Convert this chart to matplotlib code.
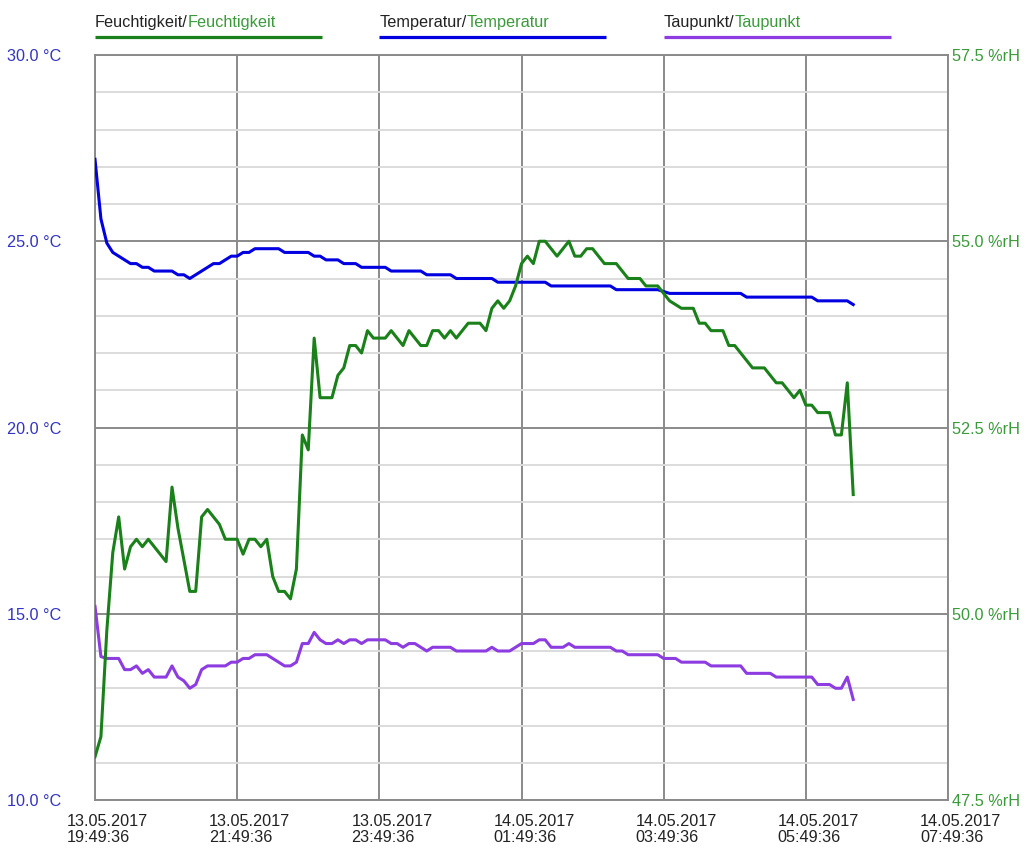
import matplotlib
matplotlib.use("Agg")
import matplotlib.pyplot as plt
import matplotlib.transforms as mtransforms
import numpy as np
import pandas as pd

plt.rcParams["font.family"] = ["Liberation Sans", "DejaVu Sans"]

t0 = np.datetime64("2017-05-13T19:49:36")

# Feuchtigkeit (%rH) - minutes after start / value
hum_min = [0, 5, 10, 15, 20, 25, 30, 35, 40, 45, 60, 65, 70, 80, 85, 90, 95, 105, 110,
           120, 125, 130, 135, 140, 145, 150, 155, 160, 165, 170, 175, 180, 185, 190,
           200, 205, 210, 215, 220, 225, 230, 235, 245, 250, 260, 265, 275, 280, 285,
           290, 295, 300, 305, 315, 325, 330, 335, 340, 345, 350, 355, 360, 365, 370,
           375, 380, 390, 400, 405, 410, 415, 420, 430, 440, 450, 460, 465, 475, 485,
           495, 505, 510, 515, 520, 530, 535, 540, 555, 565, 575, 580, 590, 595, 600,
           605, 610, 620, 625, 630, 635, 640]
hum_val = [48.08, 48.35, 49.78, 50.82, 51.3, 50.6, 50.9, 51.0, 50.9, 51.0, 50.7, 51.7,
           51.15, 50.3, 50.3, 51.3, 51.4, 51.2, 51.0, 51.0, 50.8, 51.0, 51.0, 50.9, 51.0,
           50.5, 50.3, 50.3, 50.2, 50.6, 52.4, 52.2, 53.7, 52.9, 52.9, 53.2, 53.3, 53.6,
           53.6, 53.5, 53.8, 53.7, 53.7, 53.8, 53.6, 53.8, 53.6, 53.6, 53.8, 53.8, 53.7,
           53.8, 53.7, 53.9, 53.9, 53.8, 54.1, 54.2, 54.1, 54.2, 54.4, 54.7, 54.8, 54.7,
           55.0, 55.0, 54.8, 55.0, 54.8, 54.8, 54.9, 54.9, 54.7, 54.7, 54.5, 54.5, 54.4,
           54.4, 54.2, 54.1, 54.1, 53.9, 53.9, 53.8, 53.8, 53.6, 53.6, 53.3, 53.3, 53.1,
           53.1, 52.9, 53.0, 52.8, 52.8, 52.7, 52.7, 52.4, 52.4, 53.1, 51.6]

# Temperatur (°C)
temp_min = [0, 5, 10, 15, 20, 30, 35, 40, 45, 50, 65, 70, 75, 80, 100, 105, 115, 120,
            125, 130, 135, 155, 160, 180, 185, 190, 195, 205, 210, 220, 225, 245, 250,
            275, 280, 300, 305, 335, 340, 380, 385, 435, 440, 475, 485, 545, 550, 605,
            610, 635, 640]
temp_val = [27.2, 25.6, 24.95, 24.7, 24.6, 24.4, 24.4, 24.3, 24.3, 24.2, 24.2, 24.1,
            24.1, 24.0, 24.4, 24.4, 24.6, 24.6, 24.7, 24.7, 24.8, 24.8, 24.7, 24.7, 24.6,
            24.6, 24.5, 24.5, 24.4, 24.4, 24.3, 24.3, 24.2, 24.2, 24.1, 24.1, 24.0, 24.0,
            23.9, 23.9, 23.8, 23.8, 23.7, 23.7, 23.6, 23.6, 23.5, 23.5, 23.4, 23.4, 23.3]

# Taupunkt (°C)
dew_min = [0, 5, 10, 20, 25, 30, 35, 40, 45, 50, 60, 65, 70, 75, 80, 85, 90, 95, 110,
           115, 120, 125, 130, 135, 145, 160, 165, 170, 175, 180, 185, 190, 195, 200, 205,
           210, 215, 220, 225, 230, 245, 250, 255, 260, 265, 270, 280, 285, 300, 305, 330,
           335, 340, 350, 360, 370, 375, 380, 385, 395, 400, 405, 435, 440, 445, 450, 475,
           480, 490, 495, 515, 520, 545, 550, 570, 575, 605, 610, 620, 625, 630, 635, 640]
dew_val = [15.2, 13.85, 13.8, 13.8, 13.5, 13.5, 13.6, 13.4, 13.5, 13.3, 13.3, 13.6, 13.3,
           13.2, 13.0, 13.1, 13.5, 13.6, 13.6, 13.7, 13.7, 13.8, 13.8, 13.9, 13.9, 13.6,
           13.6, 13.7, 14.2, 14.2, 14.5, 14.3, 14.2, 14.2, 14.3, 14.2, 14.3, 14.3, 14.2,
           14.3, 14.3, 14.2, 14.2, 14.1, 14.2, 14.2, 14.0, 14.1, 14.1, 14.0, 14.0, 14.1,
           14.0, 14.0, 14.2, 14.2, 14.3, 14.3, 14.1, 14.1, 14.2, 14.1, 14.1, 14.0, 14.0,
           13.9, 13.9, 13.8, 13.8, 13.7, 13.7, 13.6, 13.6, 13.4, 13.4, 13.3, 13.3, 13.1,
           13.1, 13.0, 13.0, 13.3, 12.7]

c_hum = "#1a801a"
c_temp = "#0000e0"
c_dew = "#8c3ce0"
c_txt_left = "#3333c4"
c_txt_right = "#3a9a3a"
c_major = "#8a8a8a"
c_minor = "#dcdcdc"
fs = 11.7


def to_time(mins):
    return t0 + np.array(mins) * np.timedelta64(60, "s")


fig = plt.figure(figsize=(10.3, 8.48), dpi=100)
ax = fig.add_axes([95 / 1030, 1 - 800 / 848, 853 / 1030, 745 / 848])
ax2 = ax.twinx()

ax.plot(to_time(dew_min), dew_val, color=c_dew, lw=2.2, zorder=3)
ax.plot(to_time(temp_min), temp_val, color=c_temp, lw=2.2, zorder=3)
ax2.plot(to_time(hum_min), hum_val, color=c_hum, lw=2.2, zorder=3)

xticks = t0 + np.arange(0, 13, 2) * np.timedelta64(1, "h")
xlabels = pd.to_datetime(xticks).strftime("%d.%m.%Y\n%H:%M:%S")
ax.set_xlim(xticks[0], xticks[-1])
ax.set_xticks(xticks, list(xlabels))
ax.set_ylim(10, 30)
ax.set_yticks([10, 15, 20, 25, 30], [f"{v:.1f} °C" for v in [10, 15, 20, 25, 30]])
ax.set_yticks(np.arange(10, 31, 1), minor=True)
ax2.set_ylim(47.5, 57.5)
ax2.set_yticks([47.5, 50, 52.5, 55, 57.5], [f"{v:.1f} %rH" for v in [47.5, 50, 52.5, 55, 57.5]])

ax.grid(True, which="minor", axis="y", color=c_minor, lw=1.4)
ax.grid(True, which="major", color=c_major, lw=1.4)
ax.set_axisbelow(True)
ax.tick_params(axis="both", which="both", length=0)
ax.tick_params(axis="y", labelsize=fs, labelcolor=c_txt_left, pad=24)
ax.tick_params(axis="x", labelsize=fs, labelcolor="#222222", pad=10)
ax2.tick_params(axis="y", length=0, labelsize=fs, labelcolor=c_txt_right, pad=3)
for s in ax.spines.values():
    s.set_color(c_major)
    s.set_linewidth(1.4)
for s in ax2.spines.values():
    s.set_visible(False)

shift = mtransforms.ScaledTranslation(-28 / 100, 0, fig.dpi_scale_trans)
for lab in ax.get_xticklabels():
    lab.set_ha("left")
    lab.set_linespacing(1.13)
    lab.set_transform(lab.get_transform() + shift)

# legend above the plot
entries = [("Feuchtigkeit", c_hum), ("Temperatur", c_temp), ("Taupunkt", c_dew)]
for i, (name, col) in enumerate(entries):
    x0 = i / 3
    t = ax.text(x0, 1.034, name + "/", transform=ax.transAxes, color="#222222",
                fontsize=fs, va="bottom")
    ax.annotate(name, xy=(1, 0), xycoords=t, color=c_txt_right, fontsize=fs, va="bottom")
    ax.plot([x0, x0 + 0.266], [1.0245, 1.0245], transform=ax.transAxes, color=col,
            lw=2.3, clip_on=False, solid_capstyle="butt")

fig.savefig("out.png", dpi=100)
